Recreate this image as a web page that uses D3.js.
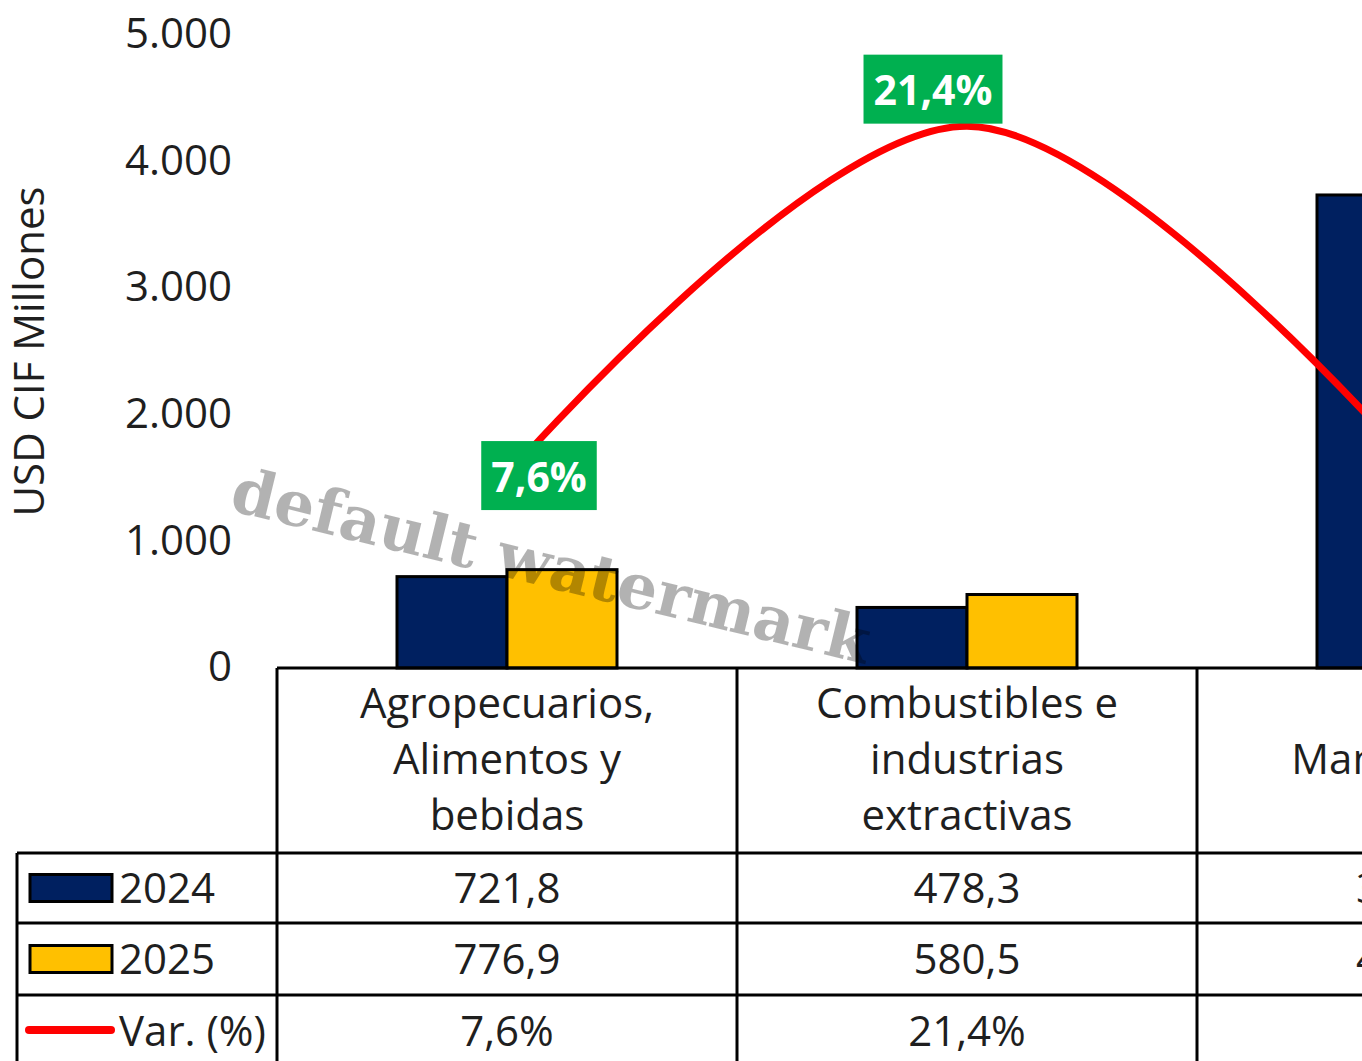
<!DOCTYPE html>
<html><head><meta charset="utf-8">
<script src="https://cdn.jsdelivr.net/npm/d3@7"></script>
<style>html,body{margin:0;padding:0;background:#fff;overflow:hidden}</style>
</head><body><svg id="c" width="1362" height="1061"></svg>
<script>
const categories = ["Agropecuarios,\nAlimentos y\nbebidas", "Combustibles e\nindustrias\nextractivas", "Manufacturas"];
const seriesNames = ["2024", "2025"];
const values2024 = [721.8, 478.3, 3736.4];
const values2025 = [776.9, 580.5, 4012.6];
const varPct = [7.6, 21.4, 7.4];
const yTicks = [0, 1000, 2000, 3000, 4000, 5000];
const yTitle = "USD CIF Millones";
const varName = "Var. (%)";
const watermarkText = "default watermark";

const colors = {"2024": "#002060", "2025": "#FFC000", line: "#FF0000", label: "#00B050", text: "#1f1f1f"};
const labelOffsets = [[32, 0], [-34, -37], [32, 0]];

const loc = d3.formatLocale({decimal: ",", thousands: ".", grouping: [3], currency: ["$", ""]});
const fmtTick = loc.format(",.0f");
const fmtVal = loc.format(",.1f");
const fmtPct = v => loc.format(".1f")(v) + "%";

const svg = d3.select("#c");
const FONT = "'Open Sans', 'Noto Sans', sans-serif";
const FS = 42;
const plotLeft = 277, catW = 460, yTop = 35, yBot = 668;
const tableTop = 853, rowH = [70, 72, 72];
const tableLeft = 17;

const x = d3.scaleBand().domain(categories).range([plotLeft, plotLeft + catW * categories.length]).padding(0);
const groupW = 220;
const xs = d3.scaleBand().domain(seriesNames).range([0, groupW]);
const y = d3.scaleLinear().domain([0, 5000]).range([yBot, yTop]);
const y2 = d3.scaleLinear().domain([0, 25]).range([yBot, yTop]);

const data = categories.map((c, i) => ({cat: c, "2024": values2024[i], "2025": values2025[i], v: varPct[i], i}));

// Y axis tick labels
const yAxis = d3.axisLeft(y).tickValues(yTicks).tickFormat(fmtTick).tickSize(0).tickPadding(0);
const gy = svg.append("g").attr("transform", "translate(232,0)").call(yAxis);
gy.select(".domain").remove();
gy.selectAll("text").attr("font-family", FONT).attr("font-size", FS).attr("fill", colors.text).attr("dy", "0.3em");

svg.append("text").attr("transform", `translate(27,${(yTop + yBot) / 2}) rotate(-90)`)
  .attr("text-anchor", "middle").attr("dominant-baseline", "central")
  .attr("font-family", FONT).attr("font-size", FS).attr("fill", colors.text).text(yTitle);

// Bars
const off = (x.bandwidth() - groupW) / 2;
const g = svg.append("g");
g.selectAll("g.cat").data(data).join("g").attr("class", "cat")
  .attr("transform", d => `translate(${x(d.cat) + off},0)`)
  .selectAll("rect").data(d => seriesNames.map(s => ({s, v: d[s]}))).join("rect")
  .attr("x", d => xs(d.s)).attr("width", xs.bandwidth())
  .attr("y", d => y(d.v)).attr("height", d => y(0) - y(d.v))
  .attr("fill", d => colors[d.s]).attr("stroke", "#000").attr("stroke-width", 3);

// Line
const cx = d => x(d.cat) + x.bandwidth() / 2;
const line = d3.line().x(cx).y(d => y2(d.v)).curve(d3.curveCardinal.tension(0));
svg.append("path").datum(data).attr("d", line).attr("fill", "none")
  .attr("stroke", colors.line).attr("stroke-width", 7).attr("stroke-linecap", "round");

// Data labels
const lab = svg.append("g").selectAll("g").data(data).join("g")
  .attr("transform", d => `translate(${cx(d) + labelOffsets[d.i][0]},${y2(d.v) + labelOffsets[d.i][1]})`);
lab.each(function(d) {
  const gg = d3.select(this);
  const r = gg.append("rect").attr("fill", colors.label);
  const t = gg.append("text").attr("text-anchor", "middle").attr("dominant-baseline", "central")
    .attr("font-family", FONT).attr("font-weight", "bold").attr("font-size", 41).attr("fill", "#fff").text(fmtPct(d.v));
  const w = t.node().getComputedTextLength() + 20;
  r.attr("x", -w / 2).attr("y", -34.5).attr("width", w).attr("height", 69);
});

// Table
const W = 1362 + 400;
const tg = svg.append("g").attr("stroke", "#000").attr("stroke-width", 3);
tg.append("line").attr("x1", plotLeft).attr("x2", W).attr("y1", yBot).attr("y2", yBot);
let yy = tableTop;
const rowTops = [];
rowH.forEach(h => { rowTops.push(yy); yy += h; });
rowTops.forEach(r => tg.append("line").attr("x1", tableLeft).attr("x2", W).attr("y1", r).attr("y2", r));
tg.append("line").attr("x1", tableLeft).attr("x2", tableLeft).attr("y1", tableTop).attr("y2", 1100);
categories.concat([null]).forEach((c, i) => {
  const xx = plotLeft + catW * i;
  tg.append("line").attr("x1", xx).attr("x2", xx).attr("y1", yBot).attr("y2", 1100);
});

// Category labels
const catG = svg.append("g").attr("font-family", FONT).attr("font-size", FS).attr("fill", colors.text).attr("text-anchor", "middle");
categories.forEach(c => {
  const lines = c.split("\n");
  const mid = (yBot + tableTop) / 2 - 3;
  lines.forEach((ln, k) => {
    catG.append("text").attr("x", x(c) + x.bandwidth() / 2).attr("y", mid + (k - (lines.length - 1) / 2) * 56)
      .attr("dominant-baseline", "central").text(ln);
  });
});

// Table rows
const rows = [
  {name: "2024", vals: values2024.map(fmtVal), key: "rect", color: colors["2024"]},
  {name: "2025", vals: values2025.map(fmtVal), key: "rect", color: colors["2025"]},
  {name: varName, vals: varPct.map(fmtPct), key: "line", color: colors.line}
];
rows.forEach((r, i) => {
  const ck = rowTops[i] + rowH[i] / 2;
  const ct = ck - 2;
  if (r.key === "rect") {
    svg.append("rect").attr("x", 30).attr("y", ck - 13.5).attr("width", 82).attr("height", 27)
      .attr("fill", r.color).attr("stroke", "#000").attr("stroke-width", 3);
  } else {
    svg.append("line").attr("x1", 29).attr("x2", 111).attr("y1", ck - 1).attr("y2", ck - 1)
      .attr("stroke", r.color).attr("stroke-width", 8).attr("stroke-linecap", "round");
  }
  svg.append("text").attr("x", 119).attr("y", ct).attr("dominant-baseline", "central")
    .attr("font-family", FONT).attr("font-size", FS).attr("fill", colors.text).text(r.name);
  r.vals.forEach((v, j) => {
    svg.append("text").attr("x", x(categories[j]) + x.bandwidth() / 2).attr("y", ct)
      .attr("text-anchor", "middle").attr("dominant-baseline", "central")
      .attr("font-family", FONT).attr("font-size", FS).attr("fill", colors.text).text(v);
  });
});

// Watermark
svg.append("text").attr("transform", "translate(228,510) rotate(13.6)")
  .attr("font-family", "'DejaVu Serif', serif").attr("font-weight", "bold").attr("font-size", 63)
  .attr("fill", "#000").attr("fill-opacity", 0.3).text(watermarkText);
</script></body></html>
